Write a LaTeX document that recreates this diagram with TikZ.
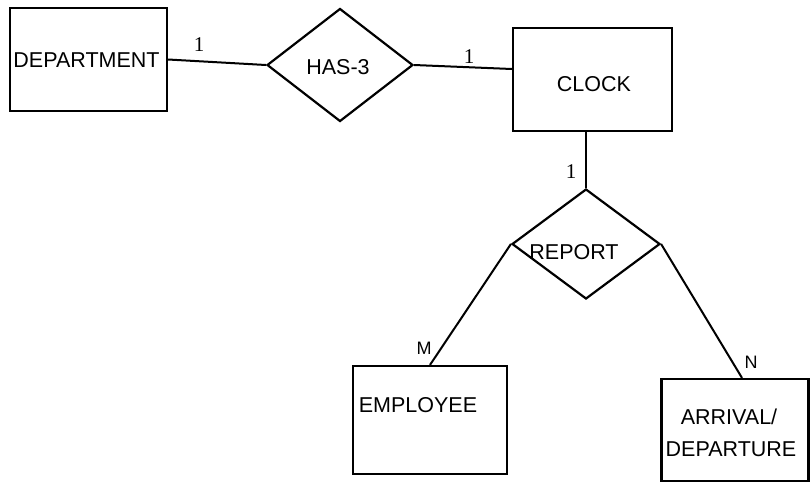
\documentclass[tikz,border=0pt]{standalone}
\usepackage{fontspec}
\setmainfont{Liberation Sans}
\newfontfamily\cardfont{Liberation Serif}
\usetikzlibrary{shapes.geometric,calc}
\begin{document}
\begin{tikzpicture}[x=1pt,y=-1pt,
  ent/.style={draw,line width=2.2pt,rectangle,inner sep=0pt},
  rel/.style={draw,line width=2.2pt,diamond,inner sep=0pt},
  lbl/.style={inner sep=0pt,font=\fontsize{21.5}{25}\selectfont},
  card/.style={inner sep=0pt,font=\fontsize{18}{20}\selectfont},
  one/.style={inner sep=0pt,font=\cardfont\fontsize{21}{24}\selectfont},
  conn/.style={line width=2pt}]
\useasboundingbox (0,0) rectangle (810,485);
% entities
\node[ent,minimum width=157pt,minimum height=103pt] (dept) at (88.5,59.5) {};
\node[lbl] (deptt) at (86.5,60) {DEPARTMENT};
\node[ent,minimum width=159pt,minimum height=103pt] (clock) at (592.5,79.5) {};
\node[lbl] (clockt) at (594,84) {CLOCK};
\node[ent,minimum width=154pt,minimum height=108pt] (emp) at (430,420) {};
\node[lbl] (empt) at (418,405) {EMPLOYEE};
\node[ent,minimum width=147pt,minimum height=102pt] (arr) at (735,430) {};
\node[lbl] (arrt1) at (729,417) {ARRIVAL/};
\node[lbl] (arrt2) at (731,449) {DEPARTURE};
% relationships
\node[rel,minimum width=146pt,minimum height=113pt] (has) at (340,65) {};
\node[lbl] (hast) at (338,67) {HAS-3};
\node[rel,minimum width=148pt,minimum height=110pt] (rep) at (586,244) {};
\node[lbl] (rept) at (574,252) {REPORT};
% connectors
\draw[conn] (dept.east) -- (has.west);
\draw[conn] (has.east) -- ($(has.east -| clock.west)+(0,4)$);
\draw[conn] (clock.south -| rep.north) -- (rep.north);
\draw[conn] (rep.west) -- (emp.north);
\draw[conn] (rep.east) -- ($(arr.north)+(7,0)$);
% cardinalities
\node[one] (c1) at (199,45) {1};
\node[one] (c2) at (469,57) {1};
\node[one] (c3) at (571,172) {1};
\node[card] (cm) at (424,348) {M};
\node[card] (cn) at (751,362) {N};
\end{tikzpicture}
\end{document}
